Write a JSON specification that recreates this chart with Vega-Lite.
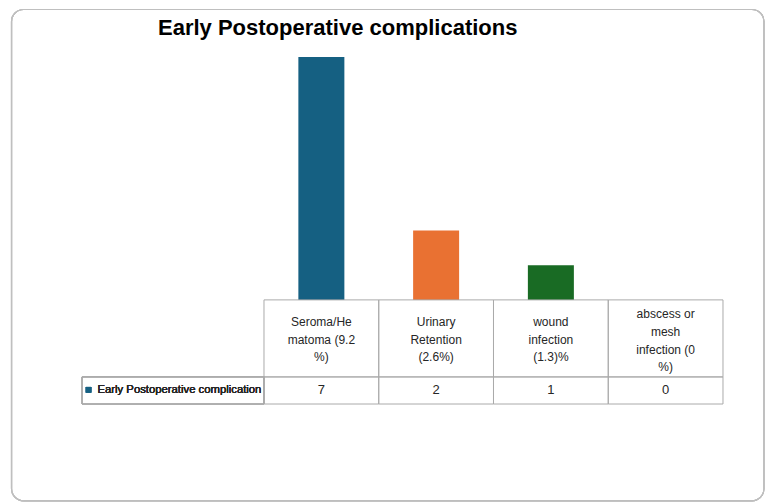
{
  "$schema": "https://vega.github.io/schema/vega-lite/v6.json",
  "width": 641,
  "height": 347,
  "autosize": {"type": "none"},
  "padding": {"left": 82, "top": 57, "right": 43, "bottom": 98},
  "background": "white",
  "title": {
    "text": "Early Postoperative complications",
    "anchor": "start",
    "frame": "group",
    "dx": 76,
    "offset": -48,
    "baseline": "alphabetic",
    "font": "Liberation Sans",
    "fontSize": 22,
    "fontWeight": "bold",
    "color": "#000000"
  },
  "config": {"view": {"stroke": null}},
  "data": {
    "values": [
      {"order": 0, "cat": "Seroma/Hematoma", "label": "Seroma/He\nmatoma (9.2\n%)", "value": 7},
      {"order": 1, "cat": "Urinary Retention", "label": "Urinary\nRetention\n(2.6%)", "value": 2},
      {"order": 2, "cat": "wound infection", "label": "wound\ninfection\n(1.3)%", "value": 1},
      {"order": 3, "cat": "abscess or mesh infection", "label": "abscess or\nmesh\ninfection (0\n%)", "value": 0}
    ]
  },
  "encoding": {
    "x": {"field": "order", "type": "quantitative", "scale": {"domain": [-2.086, 3.5], "nice": false, "zero": false, "padding": 0}, "axis": null}
  },
  "layer": [
    {
      "mark": {"type": "rect", "cornerRadius": 12, "fill": "transparent", "stroke": "#bfbfbf", "strokeWidth": 1.2},
      "encoding": {
        "x": {"datum": -2.7, "type": "quantitative"},
        "x2": {"datum": 3.857},
        "y": {"datum": 8.369, "type": "quantitative", "axis": null},
        "y2": {"datum": -5.79}
      }
    },
    {
      "mark": {"type": "bar", "width": 46},
      "encoding": {
        "y": {"field": "value", "type": "quantitative", "scale": {"domain": [-3, 7], "nice": false, "zero": false, "padding": 0}, "axis": null},
        "color": {"field": "cat", "type": "nominal", "scale": {"domain": ["Seroma/Hematoma", "Urinary Retention", "wound infection", "abscess or mesh infection"], "range": ["#156082", "#E97132", "#196B24", "#0F9ED5"]}, "legend": null}
      }
    },
    {
      "mark": {"type": "rect", "width": 114.75, "fill": "transparent", "stroke": "#aaaaaa", "strokeWidth": 1},
      "encoding": {
        "y": {"datum": 0, "type": "quantitative", "axis": null},
        "y2": {"datum": -2.22}
      }
    },
    {
      "mark": {"type": "rect", "width": 114.75, "fill": "transparent", "stroke": "#aaaaaa", "strokeWidth": 1},
      "encoding": {
        "y": {"datum": -2.22, "type": "quantitative", "axis": null},
        "y2": {"datum": -3}
      }
    },
    {
      "transform": [{"filter": "length(split(datum.label, '\\n')) <= 3"}],
      "mark": {"type": "text", "lineBreak": "\n", "fontSize": 12, "lineHeight": 17.7, "baseline": "middle", "font": "Liberation Sans", "color": "#262626"},
      "encoding": {
        "y": {"datum": -0.634, "type": "quantitative", "axis": null},
        "text": {"field": "label"}
      }
    },
    {
      "transform": [{"filter": "length(split(datum.label, '\\n')) > 3"}],
      "mark": {"type": "text", "lineBreak": "\n", "fontSize": 12, "lineHeight": 17.7, "baseline": "middle", "font": "Liberation Sans", "color": "#262626"},
      "encoding": {
        "y": {"datum": -0.418, "type": "quantitative", "axis": null},
        "text": {"field": "label"}
      }
    },
    {
      "mark": {"type": "text", "fontSize": 13, "baseline": "middle", "font": "Liberation Sans", "color": "#262626"},
      "encoding": {
        "y": {"datum": -2.59, "type": "quantitative", "axis": null},
        "text": {"field": "value", "type": "quantitative"}
      }
    },
    {
      "mark": {"type": "rect", "fill": "transparent", "stroke": "#aaaaaa", "strokeWidth": 1},
      "encoding": {
        "x": {"datum": -2.086, "type": "quantitative"},
        "x2": {"datum": -0.5},
        "y": {"datum": -2.22, "type": "quantitative", "axis": null},
        "y2": {"datum": -3}
      }
    },
    {
      "mark": {"type": "square", "size": 32, "filled": true, "color": "#156082", "opacity": 1},
      "encoding": {
        "x": {"datum": -2.029, "type": "quantitative"},
        "y": {"datum": -2.59, "type": "quantitative", "axis": null}
      }
    },
    {
      "mark": {"type": "text", "align": "left", "baseline": "middle", "fontSize": 11.3, "fontWeight": "normal", "font": "Liberation Sans", "color": "#262626", "text": "Early Postoperative complication"},
      "encoding": {
        "x": {"datum": -1.951, "type": "quantitative"},
        "y": {"datum": -2.59, "type": "quantitative", "axis": null}
      }
    }
  ]
}
